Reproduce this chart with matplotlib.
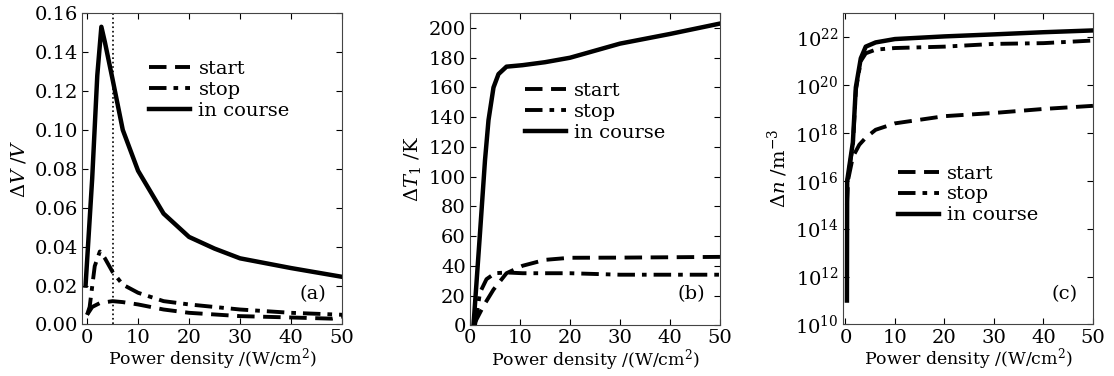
import matplotlib
matplotlib.use("Agg")
import matplotlib.pyplot as plt
from matplotlib.ticker import LogLocator, NullLocator

plt.rcParams['font.family'] = ['DejaVu Serif']
plt.rcParams['mathtext.fontset'] = 'dejavuserif'
plt.rcParams['font.size'] = 13

# (a) relative voltage change
a_course_x = [-0.3, 1, 2, 2.8, 3.5, 5, 7, 10, 15, 20, 25, 30, 40, 50]
a_course_y = [0.020, 0.075, 0.128, 0.153, 0.145, 0.126, 0.100, 0.079, 0.057, 0.045, 0.039, 0.034, 0.029, 0.0245]
a_stop_x = [0, 0.5, 1.5, 2.5, 3.5, 5, 7, 10, 15, 20, 30, 40, 50]
a_stop_y = [0.005, 0.009, 0.030, 0.0375, 0.034, 0.027, 0.0205, 0.0163, 0.012, 0.0103, 0.0077, 0.006, 0.005]
a_start_x = [0, 1, 2.5, 5, 7, 10, 15, 20, 30, 40, 48, 50]
a_start_y = [0.005, 0.009, 0.011, 0.012, 0.0115, 0.0103, 0.0077, 0.006, 0.0043, 0.0036, 0.003, 0.004]

# (b) temperature rise
b_course_x = [0.7, 2, 3, 3.7, 4.7, 5.7, 7.3, 10.5, 15, 20, 30, 40, 50]
b_course_y = [0, 62, 111, 138, 160, 169, 174, 175, 177, 180, 189.5, 196, 203]
b_start_x = [0.7, 2.7, 4.7, 7.3, 10.5, 15, 20, 30, 50]
b_start_y = [0, 13, 24, 35, 40, 44, 45.4, 45.5, 46]
b_stop_x = [1, 2, 3.3, 5, 7.3, 10.5, 20, 30, 50]
b_stop_y = [0, 22, 31, 35, 35.5, 35, 35, 34, 34]

# (c) carrier density
c_course_x = [0.3, 0.35, 1.5, 2.1, 3.1, 4.1, 6.1, 10, 20, 30, 40, 50]
c_course_y = [1e11, 1e16, 4e17, 8e19, 1.3e21, 4e21, 6e21, 8.3e21, 1.07e22, 1.3e22, 1.6e22, 1.9e22]
c_stop_x = [0.3, 0.4, 1.5, 2.1, 3.1, 4.1, 6.1, 10, 20, 30, 40, 50]
c_stop_y = [1e15, 1e16, 3e17, 6e19, 1.0e21, 2.1e21, 3.0e21, 3.5e21, 4.0e21, 5.2e21, 5.6e21, 7.2e21]
c_start_x = [0.3, 0.5, 1.5, 2.8, 4.1, 6.1, 10, 20, 30, 40, 50]
c_start_y = [1e15, 1e16, 1e17, 3.2e17, 6.3e17, 1.35e18, 2.5e18, 5e18, 6.8e18, 1e19, 1.35e19]

labels = ['start', 'stop', 'in course']

fig = plt.figure(figsize=(11.14, 3.76), dpi=100)
ax_a = fig.add_axes([0.0736, 0.137, 0.2334, 0.828])
ax_b = fig.add_axes([0.4219, 0.135, 0.2244, 0.830])
ax_c = fig.add_axes([0.7567, 0.137, 0.2244, 0.828])


def draw(ax, sx, sy, px, py, cx, cy):
    ax.plot(sx, sy, color='black', lw=2.8, ls=(0, (4.5, 2.2)), label=labels[0])
    ax.plot(px, py, color='black', lw=2.8, ls=(0, (4.5, 1.8, 1.2, 1.8)), label=labels[1])
    ax.plot(cx, cy, color='black', lw=3.2, ls='-', label=labels[2])
    ax.tick_params(direction='in', top=True, right=True, length=4, width=0.8, labelsize=14, pad=3)
    for s in ax.spines.values():
        s.set_linewidth(0.8)
        s.set_color('#444444')


def finish(ax, tag, anchor):
    ax.set_xticks([0, 10, 20, 30, 40, 50])
    ax.set_xlabel(r'Power density /(W/cm$^2$)', fontsize=12.5, labelpad=-0.5)
    ax.text(0.94, 0.07, tag, transform=ax.transAxes, ha='right', va='bottom', fontsize=14)
    ax.legend(loc='upper left', bbox_to_anchor=anchor, frameon=False, fontsize=14,
              handlelength=2.1, handletextpad=0.45, labelspacing=0.15, borderpad=0)


draw(ax_a, a_start_x, a_start_y, a_stop_x, a_stop_y, a_course_x, a_course_y)
ax_a.axvline(5, color='black', ls=':', lw=1.2)
ax_a.set_xlim(-1, 50)
ax_a.set_ylim(0, 0.16)
ticks_a = [0, 0.02, 0.04, 0.06, 0.08, 0.10, 0.12, 0.14, 0.16]
ax_a.set_yticks(ticks_a)
ax_a.set_yticklabels(['%.2f' % v for v in ticks_a])
ax_a.set_ylabel(r'$\Delta V$ /$V$', fontsize=14, labelpad=4)
finish(ax_a, '(a)', (0.22, 0.88))

draw(ax_b, b_start_x, b_start_y, b_stop_x, b_stop_y, b_course_x, b_course_y)
ax_b.set_xlim(0, 50)
ax_b.set_ylim(0, 210)
ax_b.set_yticks(range(0, 201, 20))
ax_b.set_ylabel(r'$\Delta T_1$ /K', fontsize=14, labelpad=4)
finish(ax_b, '(b)', (0.18, 0.81))

draw(ax_c, c_start_x, c_start_y, c_stop_x, c_stop_y, c_course_x, c_course_y)
ax_c.set_yscale('log')
ax_c.set_xlim(-0.5, 50)
ax_c.set_ylim(1e10, 1e23)
ax_c.yaxis.set_major_locator(LogLocator(base=100))
ax_c.yaxis.set_minor_locator(NullLocator())
ax_c.set_ylabel(r'$\Delta n$ /m$^{-3}$', fontsize=14, labelpad=4)
finish(ax_c, '(c)', (0.18, 0.545))

fig.savefig('out.png', dpi=100)
